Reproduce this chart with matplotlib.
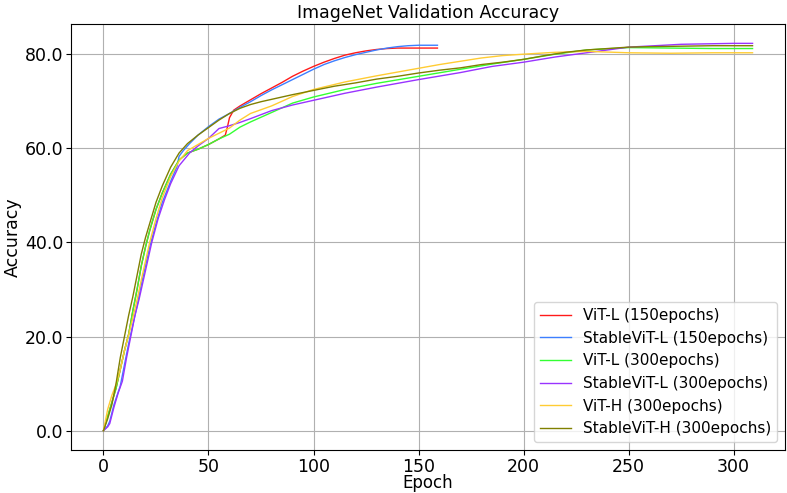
import matplotlib
matplotlib.use("Agg")
import matplotlib.pyplot as plt
from matplotlib.ticker import FormatStrFormatter

# ViT-L (150 epochs)
ep_vitl150 = [0, 2, 4, 6, 8, 10, 12, 14, 16, 18, 20, 22, 25, 28, 32, 36, 40, 45, 50, 55, 58, 59, 60,
              62, 65, 70, 75, 80, 85, 90, 95, 100, 105, 110, 115, 120, 125, 130, 135, 140, 145, 150, 159]
acc_vitl150 = [0, 3, 6, 9, 13, 17, 20.5, 25.5, 30, 35, 39, 42.5, 47, 50.5, 54.5, 57.5, 59, 59.8, 60.8, 62,
               62.8, 64.5, 66.5, 68.1, 69.0, 70.3, 71.6, 72.8, 74.0, 75.3, 76.4, 77.4, 78.3, 79.1, 79.8,
               80.3, 80.7, 81.0, 81.2, 81.3, 81.3, 81.3, 81.3]

# StableViT-L (150 epochs)
ep_svitl150 = [0, 2, 3, 5, 8, 10, 12, 14, 16, 18, 20, 22, 25, 28, 32, 35, 36, 38, 41, 45, 50, 55, 60,
               65, 70, 75, 80, 85, 90, 95, 100, 105, 110, 115, 120, 125, 130, 135, 140, 145, 150, 159]
acc_svitl150 = [0, 1, 2, 5.5, 9.5, 14, 18.5, 22.5, 26.5, 31, 35, 39, 44, 48.5, 53, 56.1, 58.3, 59.5, 61,
                62.8, 64.6, 66.2, 67.4, 68.7, 69.9, 71.2, 72.4, 73.5, 74.6, 75.7, 76.8, 77.8, 78.6, 79.3,
                79.9, 80.4, 80.9, 81.3, 81.6, 81.8, 81.9, 81.9]

# ViT-L (300 epochs)
ep_vitl300 = [0, 2, 4, 6, 8, 10, 12, 14, 16, 18, 20, 22, 25, 28, 32, 36, 40, 45, 50, 55, 60, 65, 70,
              80, 90, 100, 115, 130, 150, 170, 185, 200, 215, 230, 250, 270, 290, 309]
acc_vitl300 = [0, 3, 6, 9, 13, 17, 20.5, 25.5, 30, 35, 39, 42.5, 47, 50.5, 54.5, 57.5, 59, 59.8, 60.8,
               62, 63, 64.5, 65.6, 67.6, 69.6, 70.9, 72.5, 73.8, 75.3, 76.8, 77.9, 78.9, 80.0, 80.9,
               81.4, 81.3, 81.2, 81.2]

# StableViT-L (300 epochs)
ep_svitl300 = [0, 2, 3, 5, 7, 9, 11, 13, 15, 17, 20, 23, 26, 29, 32, 36, 41, 45, 50, 55, 60, 65, 70,
               80, 90, 100, 115, 130, 150, 170, 185, 200, 215, 230, 250, 275, 300, 309]
acc_svitl300 = [0, 0.8, 1.5, 5, 8, 10.5, 15.5, 20, 24.5, 28, 34, 40, 45, 49, 52.5, 56.3, 59, 60.5, 62.1,
                64.2, 64.8, 65.5, 66.3, 68.0, 69.2, 70.2, 71.7, 73.0, 74.6, 76.1, 77.4, 78.3, 79.4,
                80.3, 81.5, 82.1, 82.3, 82.3]

# ViT-H (300 epochs)
ep_vith300 = [0, 2, 4, 6, 8, 10, 12, 14, 16, 18, 20, 22, 25, 28, 32, 36, 40, 45, 50, 55, 60, 65, 70,
              80, 90, 100, 115, 130, 150, 160, 170, 180, 190, 200, 215, 230, 250, 270, 290, 309]
acc_vith300 = [0, 4.5, 7.5, 9.8, 13, 17, 20.3, 24, 27.8, 32, 36, 40, 45, 49.5, 54, 57.3, 59.5, 60.8,
               62.1, 63.2, 64.3, 66, 67.4, 69.0, 71.0, 72.5, 74.1, 75.4, 77.0, 77.8, 78.5, 79.2, 79.7,
               80.0, 80.4, 80.6, 80.3, 80.2, 80.3, 80.3]

# StableViT-H (300 epochs)
ep_svith300 = [0, 2, 4, 6, 8, 10, 12, 14, 16, 18, 20, 22, 25, 28, 32, 36, 40, 45, 50, 55, 60, 65, 70,
               75, 80, 90, 100, 110, 120, 130, 140, 150, 160, 170, 180, 190, 200, 210, 220, 230, 240,
               250, 260, 275, 290, 309]
acc_svith300 = [0, 2.5, 5.5, 10, 15.5, 20, 24.5, 28.5, 33, 37.5, 41, 44, 48.5, 52, 56, 59, 61, 62.8,
                64.4, 66, 67.4, 68.5, 69.3, 69.9, 70.4, 71.4, 72.3, 73.2, 73.9, 74.7, 75.3, 76.0, 76.6,
                77.1, 77.8, 78.3, 78.9, 79.7, 80.4, 80.9, 81.2, 81.5, 81.6, 81.7, 81.8, 81.8]

labels = ['ViT-L (150epochs)', 'StableViT-L (150epochs)', 'ViT-L (300epochs)',
          'StableViT-L (300epochs)', 'ViT-H (300epochs)', 'StableViT-H (300epochs)']
colors = ['#ff1a1a', '#3d7fff', '#33ff33', '#9933ff', '#ffcc33', '#808000']

series = [(ep_vitl150, acc_vitl150), (ep_svitl150, acc_svitl150), (ep_vitl300, acc_vitl300),
          (ep_svitl300, acc_svitl300), (ep_vith300, acc_vith300), (ep_svith300, acc_svith300)]

fig, ax = plt.subplots(figsize=(7.87, 4.93), dpi=100)
fig.subplots_adjust(left=71/787, right=785/787, top=1-24/493, bottom=1-450/493)

for (ep, acc), lab, c in zip(series, labels, colors):
    ax.plot(ep, acc, color=c, linewidth=1.0, label=lab)

ax.grid(True, color='#b0b0b0', linewidth=0.8)
ax.yaxis.set_major_formatter(FormatStrFormatter('%.1f'))
ax.tick_params(labelsize=12.5, pad=2)
ax.set_title('ImageNet Validation Accuracy', fontsize=12.5, pad=4)
ax.set_xlabel('Epoch', fontsize=12)
ax.xaxis.set_label_coords(0.5, -0.056)
ax.set_ylabel('Accuracy', fontsize=12.5, labelpad=2)
ax.legend(loc='lower right', fontsize=11)

fig.savefig('out.png', dpi=100)
